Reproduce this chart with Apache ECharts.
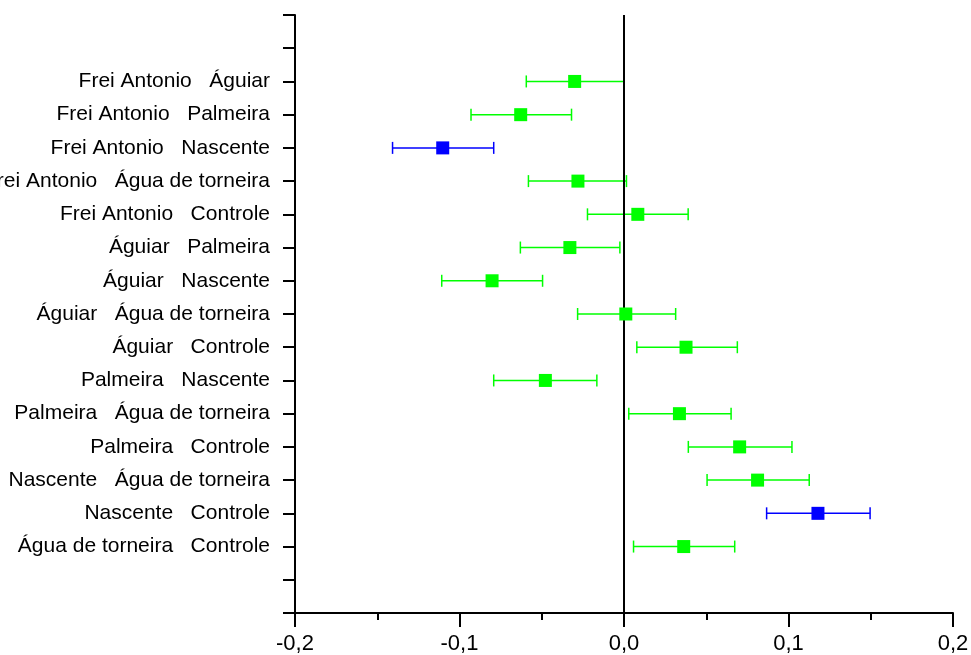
<!DOCTYPE html>
<html>
<head>
<meta charset="utf-8">
<script src="https://cdn.jsdelivr.net/npm/echarts@6/dist/echarts.min.js"></script>
<style>
html,body{margin:0;padding:0;background:#fff;}
#chart{width:971px;height:655px;}
</style>
</head>
<body>
<div id="chart"></div>
<script>
const comparisons = [
  'Frei Antonio   Águiar',
  'Frei Antonio   Palmeira',
  'Frei Antonio   Nascente',
  'Frei Antonio   Água de torneira',
  'Frei Antonio   Controle',
  'Águiar   Palmeira',
  'Águiar   Nascente',
  'Águiar   Água de torneira',
  'Águiar   Controle',
  'Palmeira   Nascente',
  'Palmeira   Água de torneira',
  'Palmeira   Controle',
  'Nascente   Água de torneira',
  'Nascente   Controle',
  'Água de torneira   Controle'
];
const meanDiff = [-0.0300, -0.0628, -0.1102, -0.0280, 0.0084, -0.0329, -0.0802, 0.0011, 0.0377, -0.0478, 0.0337, 0.0703, 0.0812, 0.1179, 0.0363];
const lowerCI  = [-0.0594, -0.0930, -0.1407, -0.0581, -0.0222, -0.0630, -0.1108, -0.0282, 0.0078, -0.0792, 0.0029, 0.0391, 0.0505, 0.0867, 0.0058];
const upperCI  = [0.0000, -0.0319, -0.0792, 0.0015, 0.0390, -0.0025, -0.0495, 0.0314, 0.0689, -0.0165, 0.0651, 0.1021, 0.1126, 0.1496, 0.0673];
const significant = [false, false, true, false, false, false, false, false, false, false, false, false, false, true, false];
const xTicks = [-0.2, -0.1, 0.0, 0.1, 0.2];

const GREEN = '#00ff00', BLUE = '#0000ff';
const rowPos = comparisons.map((_, i) => i + 2);

const barData = comparisons.map((_, i) => ({
  value: [lowerCI[i], upperCI[i], rowPos[i]],
  itemStyle: { color: significant[i] ? BLUE : GREEN }
}));
const pointData = comparisons.map((_, i) => ({
  value: [meanDiff[i], rowPos[i]],
  itemStyle: { color: significant[i] ? BLUE : GREEN, opacity: 1 }
}));

const chart = echarts.init(document.getElementById('chart'));
chart.setOption({
  animation: false,
  backgroundColor: '#fff',
  grid: { left: 295, right: 18, top: 15, bottom: 42, containLabel: false, outerBoundsMode: 'none' },
  xAxis: {
    type: 'value', min: -0.2, max: 0.2, interval: 0.1,
    axisLine: { show: true, onZero: false, lineStyle: { color: '#000', width: 2 } },
    axisTick: { show: true, length: 14, lineStyle: { color: '#000', width: 2 } },
    minorTick: { show: true, splitNumber: 2, length: 7, lineStyle: { color: '#000', width: 2 } },
    splitLine: { show: false },
    axisLabel: {
      color: '#000', fontSize: 22, fontFamily: 'Liberation Sans, Arial', margin: 20,
      formatter: v => xTicks.some(t => Math.abs(t - v) < 1e-9) ? v.toFixed(1).replace('.', ',') : ''
    }
  },
  yAxis: {
    type: 'value', min: 0, max: 18, interval: 1, inverse: true,
    axisLine: { show: true, onZero: false, lineStyle: { color: '#000', width: 2 } },
    axisTick: { show: true, length: 12, lineStyle: { color: '#000', width: 2 } },
    splitLine: { show: false },
    axisLabel: {
      color: '#000', fontSize: 21, fontFamily: 'Liberation Sans, Arial', margin: 25,
      formatter: v => (v >= 2 && v <= 16) ? comparisons[v - 2] : ''
    }
  },
  series: [
    {
      type: 'custom',
      data: barData,
      encode: { x: [0, 1], y: 2 },
      renderItem: (params, api) => {
        const a = api.coord([api.value(0), api.value(2)]);
        const b = api.coord([api.value(1), api.value(2)]);
        const c = api.visual('color');
        const h = 6;
        const style = { stroke: c, lineWidth: 1.5 };
        return {
          type: 'group',
          children: [
            { type: 'line', shape: { x1: a[0], y1: a[1], x2: b[0], y2: b[1] }, style },
            { type: 'line', shape: { x1: a[0], y1: a[1] - h, x2: a[0], y2: a[1] + h }, style },
            { type: 'line', shape: { x1: b[0], y1: b[1] - h, x2: b[0], y2: b[1] + h }, style }
          ]
        };
      },
      z: 2
    },
    {
      type: 'scatter',
      data: pointData,
      symbol: 'rect',
      symbolSize: 13,
      itemStyle: { opacity: 1 },
      z: 4,
      markLine: {
        silent: true,
        symbol: 'none',
        label: { show: false },
        lineStyle: { color: '#000', width: 2, type: 'solid' },
        data: [{ xAxis: 0 }],
        z: 3
      }
    }
  ]
});
</script>
</body>
</html>
